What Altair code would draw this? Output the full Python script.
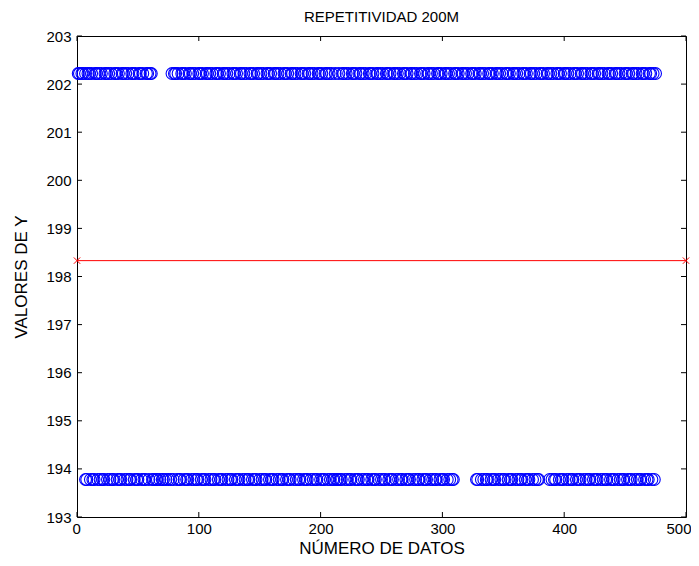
import altair as alt
import pandas as pd

# ---- data ----
high_x = [1, 2, 4, 5, 7, 9, 10, 12, 15, 16, 18, 20, 23, 24, 26, 28, 31, 32, 34, 37, 38, 40,
          42, 45, 46, 48, 51, 52, 54, 57, 58, 60, 61,
          78, 80, 81, 83, 86, 87, 89, 92, 93, 95, 97, 100, 101, 103, 106, 107, 109, 111, 114,
          115, 117, 120, 121, 123, 125, 128, 129, 131, 134, 135, 137, 139, 142, 143, 145, 148,
          149, 151, 153, 156, 157, 159, 162, 163, 165, 167, 170, 171, 173, 176, 177, 179, 181,
          184, 185, 187, 190, 191, 193, 195, 198, 199, 201, 204, 205, 207, 209, 212, 215, 218,
          219, 221, 223, 226, 227, 229, 232, 233, 235, 237, 240, 241, 243, 246, 247, 249, 251,
          254, 255, 257, 260, 261, 263, 265, 268, 269, 271, 274, 275, 277, 279, 282, 283, 285,
          288, 289, 291, 293, 296, 297, 299, 302, 303, 305, 307, 310, 311, 313, 316, 317, 319,
          321, 324, 325, 327, 330, 331, 333, 335, 338, 339, 341, 344, 345, 347, 349, 352, 353,
          355, 358, 359, 361, 363, 366, 367, 369, 372, 373, 375, 377, 380, 381, 383, 386, 387,
          389, 391, 394, 395, 397, 400, 401, 403, 405, 408, 409, 411, 414, 415, 417, 419, 422,
          423, 425, 428, 429, 431, 433, 436, 437, 439, 442, 443, 445, 447, 450, 451, 453, 456,
          457, 459, 461, 464, 465, 467, 470, 471, 473, 475]
low_x = [7, 8, 11, 13, 14, 17, 19, 21, 22, 25, 27, 29, 30, 33, 35, 36, 39, 41, 43, 44, 47,
         49, 50, 53, 55, 56, 59, 62, 63, 65, 66, 68, 70, 71, 73, 75, 77, 79, 82, 84, 85, 88,
         90, 91, 94, 96, 98, 99, 102, 104, 105, 108, 110, 112, 113,
         116, 118, 119, 122, 124, 126, 127, 130, 132, 133, 136, 138, 140, 141, 144, 146, 147,
         150, 152, 154, 155, 158, 160, 161, 164, 166, 168, 169, 172, 174, 175, 178, 180, 182,
         183, 186, 188, 189, 192, 194, 196, 197, 200, 202, 203, 206, 208, 210, 211, 213, 214,
         216, 217, 220, 222, 224, 225, 228, 230, 231, 234, 236, 238, 239, 242, 244, 245, 248,
         250, 252, 253, 256, 258, 259, 262, 264, 266, 267, 270, 272, 273, 276, 278, 280, 281,
         284, 286, 287, 290, 292, 294, 295, 298, 300, 301, 304, 306, 308, 309,
         328, 329, 332, 334, 336, 337, 340, 342, 343, 346, 348, 350, 351, 354, 356, 357, 360,
         362, 364, 365, 368, 370, 371, 374, 376, 378, 379,
         388, 390, 392, 393, 396, 398, 399, 402, 404, 406, 407, 410, 412, 413, 416, 418, 420,
         421, 424, 426, 427, 430, 432, 434, 435, 438, 440, 441, 444, 446, 448, 449, 452, 454,
         455, 458, 460, 462, 463, 466, 468, 469, 472, 474]
high_value = 202.22
low_value = 193.78
mean_x = [0, 500]
mean_y = [198.33, 198.33]
x_ticks = [0, 100, 200, 300, 400, 500]
y_ticks = [193, 194, 195, 196, 197, 198, 199, 200, 201, 202, 203]

W, H = 609, 481
FONT = "Liberation Sans"

pts = pd.DataFrame({
    "x": high_x + low_x,
    "y": [high_value] * len(high_x) + [low_value] * len(low_x),
})
mean_df = pd.DataFrame({"x": mean_x, "y": mean_y})
xt_df = pd.DataFrame({"x": x_ticks})
yt_df = pd.DataFrame({"y": y_ticks})

xs = alt.Scale(domain=[0, 500], nice=False, zero=False)
ys = alt.Scale(domain=[193, 203], nice=False, zero=False)

x_axis = alt.Axis(values=x_ticks, title="NÚMERO DE DATOS", ticks=False, grid=False,
                  domain=False, labelPadding=4, titlePadding=4,
                  labelFlush=True, labelFlushOffset=5,
                  labelFont=FONT, labelFontSize=15, labelColor="black",
                  titleFont=FONT, titleFontSize=17, titleFontWeight="normal",
                  titleColor="black")
y_axis = alt.Axis(values=y_ticks, title="VALORES DE Y", ticks=False, grid=False,
                  domain=False, labelPadding=6, titlePadding=15,
                  labelFont=FONT, labelFontSize=15, labelColor="black",
                  titleFont=FONT, titleFontSize=17, titleFontWeight="normal",
                  titleColor="black")

points = alt.Chart(pts).mark_point(
    shape="circle", filled=False, color="#0000FF", size=140, strokeWidth=1.1, opacity=1
).encode(
    x=alt.X("x:Q", scale=xs, axis=x_axis),
    y=alt.Y("y:Q", scale=ys, axis=y_axis),
)

mean_line = alt.Chart(mean_df).mark_line(color="#FF0000", strokeWidth=1).encode(
    x=alt.X("x:Q", scale=xs, axis=x_axis),
    y=alt.Y("y:Q", scale=ys, axis=y_axis),
)
mean_marks = alt.Chart(mean_df).mark_point(
    shape="M-1,-1L1,1M-1,1L1,-1", size=40, color="#FF0000", strokeWidth=1,
    filled=False, opacity=1
).encode(
    x=alt.X("x:Q", scale=xs, axis=x_axis),
    y=alt.Y("y:Q", scale=ys, axis=y_axis),
)

tick_len = 5
xt_bottom = alt.Chart(xt_df).mark_rule(color="black", strokeWidth=1).encode(
    x=alt.X("x:Q", scale=xs, axis=x_axis), y=alt.value(H), y2=alt.value(H - tick_len))
xt_top = alt.Chart(xt_df).mark_rule(color="black", strokeWidth=1).encode(
    x=alt.X("x:Q", scale=xs, axis=x_axis), y=alt.value(0), y2=alt.value(tick_len))
yt_left = alt.Chart(yt_df).mark_rule(color="black", strokeWidth=1).encode(
    y=alt.Y("y:Q", scale=ys, axis=y_axis), x=alt.value(0), x2=alt.value(tick_len))
yt_right = alt.Chart(yt_df).mark_rule(color="black", strokeWidth=1).encode(
    y=alt.Y("y:Q", scale=ys, axis=y_axis), x=alt.value(W), x2=alt.value(W - tick_len))

chart = alt.layer(
    points, mean_line, mean_marks, xt_bottom, xt_top, yt_left, yt_right
).properties(
    width=W, height=H,
    background="white",
    title=alt.TitleParams("REPETITIVIDAD 200M", font=FONT, fontSize=15,
                          fontWeight="normal", color="black", offset=4),
    autosize=alt.AutoSizeParams(type="none"),
    padding={"left": 69, "top": 28, "right": 5, "bottom": 41},
).configure_view(
    stroke="black", strokeWidth=1
)

chart.save("out.html", embed_options={"renderer": "svg", "actions": False})
